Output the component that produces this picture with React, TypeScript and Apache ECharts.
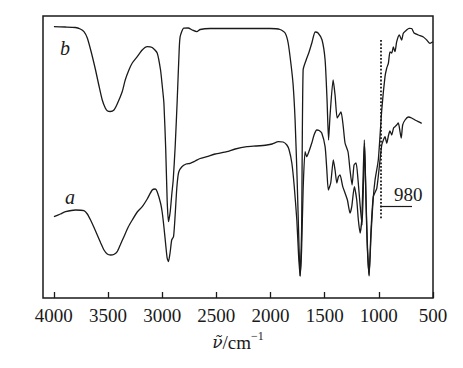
import React, { useEffect, useRef } from "react";
import * as echarts from "echarts";

// x-axis tick labels (wavenumber, cm^-1)
const tickValues = [4000, 3500, 3000, 2500, 2000, 1500, 1000, 500];

// Spectrum b (upper curve): wavenumber / relative transmittance (a.u.)
const wnB = [
  3999, 3894, 3802, 3756, 3722, 3691, 3655, 3615, 3585, 3553, 3525, 3507, 3479, 3445, 3415, 3369,
  3341, 3307, 3276, 3230, 3184, 3138, 3092, 3046, 3015, 3000, 2984, 2967, 2954, 2942, 2926, 2910,
  2898, 2880, 2861, 2843, 2834, 2803, 2760, 2723, 2680, 2649, 2557, 2372, 2188, 2003, 1911, 1865,
  1837, 1810, 1791, 1773, 1754, 1741, 1727, 1713, 1699, 1671, 1644, 1616, 1588, 1561, 1524, 1496,
  1478, 1464, 1450, 1422, 1404, 1385, 1367, 1349, 1330, 1312, 1284, 1266, 1247, 1229, 1210, 1192,
  1173, 1155, 1141, 1132, 1118, 1104, 1090, 1072, 1053, 1035, 1005, 973, 943, 927, 912, 897,
  881, 866, 851, 835, 811, 789, 774, 743, 721, 697, 675, 636, 589, 558, 528, 500,
];
const tB = [
  271.3, 271, 270.5, 269, 266.3, 260, 246, 228, 213, 198, 190, 187.3, 186.5, 188, 194, 206.3,
  218, 228, 235, 241.3, 248, 251.3, 250.5, 245, 228, 213, 195, 148, 98, 76.3, 86, 105,
  118, 151.3, 198, 248, 261.3, 269.7, 270, 268, 266.3, 268.5, 269.5, 269.5, 269.5, 269.5, 268.5, 265,
  255, 233, 213, 178, 118, 68, 22, 68, 228, 238, 246, 256, 266, 265, 258, 238,
  198, 158, 183, 218, 203, 180, 183, 186, 173, 155, 146, 128, 113, 133, 135, 118,
  93, 73, 118, 155, 98, 48, 22, 63, 98, 118, 138, 188, 221.3, 230, 234.7, 246,
  245, 251, 246.3, 256.3, 263, 258, 264.7, 268, 269.7, 269.5, 265, 263, 261, 258, 254.7, 256.3,
];

// Spectrum a (lower curve)
const wnA = [
  3999, 3940, 3892, 3799, 3722, 3691, 3661, 3631, 3599, 3567, 3537, 3507, 3476, 3447, 3415, 3387,
  3353, 3313, 3276, 3230, 3184, 3138, 3092, 3064, 3046, 3015, 3000, 2984, 2967, 2954, 2942, 2926,
  2912, 2895, 2880, 2864, 2847, 2818, 2778, 2741, 2695, 2649, 2587, 2511, 2403, 2326, 2218, 2133,
  2034, 1985, 1927, 1884, 1849, 1828, 1803, 1782, 1757, 1741, 1727, 1713, 1699, 1681, 1665, 1650,
  1619, 1598, 1573, 1551, 1527, 1496, 1480, 1466, 1444, 1420, 1404, 1388, 1373, 1358, 1333, 1312,
  1290, 1266, 1250, 1226, 1204, 1189, 1173, 1158, 1146, 1134, 1123, 1109, 1090, 1072, 1051, 1019,
  989, 973, 958, 943, 927, 910, 897, 881, 864, 851, 835, 820, 804, 793, 780, 758,
  728, 697, 666, 636, 604,
];
const tA = [
  81.3, 84, 86.3, 88, 87.3, 84, 78, 71, 63, 55, 48, 44, 43, 43.5, 46.3, 53,
  61.3, 71, 78, 86, 91.3, 99, 108, 109, 106.3, 95, 86, 71.3, 53, 40, 36.3, 46,
  58, 61.3, 83, 111.3, 126, 131.3, 134, 134.7, 137, 139.5, 141.3, 144, 146.3, 149, 151.3, 152,
  153, 154, 156.3, 156, 153, 148, 135, 113, 78, 43, 22, 48, 108, 146.3, 141.3, 145,
  155, 163, 168, 167.5, 165, 151.3, 128, 108, 115, 138, 128, 115, 121.3, 123, 111.3, 105,
  98, 85, 91.3, 111.3, 98, 78, 65, 78, 118, 158, 118, 58, 23, 68, 101.3, 109.7,
  138, 153, 158, 161.3, 154.7, 163, 167, 163, 170, 171.3, 173, 175, 166, 160, 173, 178,
  181, 180, 178, 176.3, 174.7,
];

// Annotation: the 980 cm^-1 band
const markerWn = 980;
const markerLabel = "980";

const serif = "'Liberation Serif', 'Times New Roman', serif";
const ink = "#1a1a1a";

export default function App() {
  const ref = useRef<HTMLDivElement>(null);
  useEffect(() => {
    if (!ref.current) return;
    const chart = echarts.init(ref.current, null, { renderer: "svg" });
    const dataA = wnA.map((w, i) => [w, tA[i]]);
    const dataB = wnB.map((w, i) => [w, tB[i]]);
    chart.setOption({
      animation: false,
      backgroundColor: "#ffffff",
      grid: {
        left: 43,
        right: 30,
        top: 16,
        bottom: 70,
        show: true,
        borderColor: ink,
        borderWidth: 1.5,
        backgroundColor: "transparent",
      },
      xAxis: {
        type: "value",
        inverse: true,
        min: 500,
        max: 4100,
        axisLine: { show: false },
        splitLine: { show: false },
        axisTick: {
          show: true,
          inside: true,
          length: 6,
          customValues: tickValues,
          lineStyle: { color: ink, width: 1.3 },
        },
        axisLabel: {
          customValues: tickValues,
          formatter: (v: number) => String(v),
          margin: 8,
          fontFamily: serif,
          fontSize: 19,
          color: ink,
        },
        name: "{v|ν\u0303}/cm{s|−1}",
        nameLocation: "middle",
        nameGap: 32,
        nameTextStyle: {
          fontFamily: serif,
          fontSize: 19,
          color: ink,
          rich: {
            v: { fontFamily: "'DejaVu Serif', serif", fontSize: 17, fontStyle: "italic", color: ink },
            s: { fontFamily: serif, fontSize: 12, color: ink, padding: [0, 0, 12, 0] },
          },
        },
      },
      yAxis: {
        type: "value",
        min: 0,
        max: 282,
        show: false,
      },
      series: [
        {
          name: "a",
          type: "line",
          data: dataA,
          showSymbol: false,
          smooth: 0.2,
          lineStyle: { color: ink, width: 1.3 },
          z: 3,
        },
        {
          name: "b",
          type: "line",
          data: dataB,
          showSymbol: false,
          smooth: 0.2,
          lineStyle: { color: ink, width: 1.3 },
          z: 3,
          markLine: {
            silent: true,
            symbol: ["none", "none"],
            label: { show: false },
            data: [
              [
                { coord: [markerWn, 258], lineStyle: { type: "dotted", width: 1.8, color: ink } },
                { coord: [markerWn, 78] },
              ],
              [
                { coord: [989, 91.3], lineStyle: { type: "solid", width: 1.2, color: ink } },
                { coord: [694, 91.3] },
              ],
            ],
          },
        },
      ],
      graphic: [
        {
          type: "text",
          left: 60,
          top: 38,
          style: { text: "b", fontFamily: serif, fontStyle: "italic", fontSize: 20, fill: ink },
        },
        {
          type: "text",
          left: 65,
          top: 187,
          style: { text: "a", fontFamily: serif, fontStyle: "italic", fontSize: 20, fill: ink },
        },
        {
          type: "text",
          left: 394,
          top: 185,
          style: { text: markerLabel, fontFamily: serif, fontSize: 19, fill: ink },
        },
      ],
    });
    return () => chart.dispose();
  }, []);
  return (
    <div
      ref={ref}
      style={{ position: "fixed", left: 0, top: 0, width: 463, height: 368, background: "#fff" }}
    />
  );
}
